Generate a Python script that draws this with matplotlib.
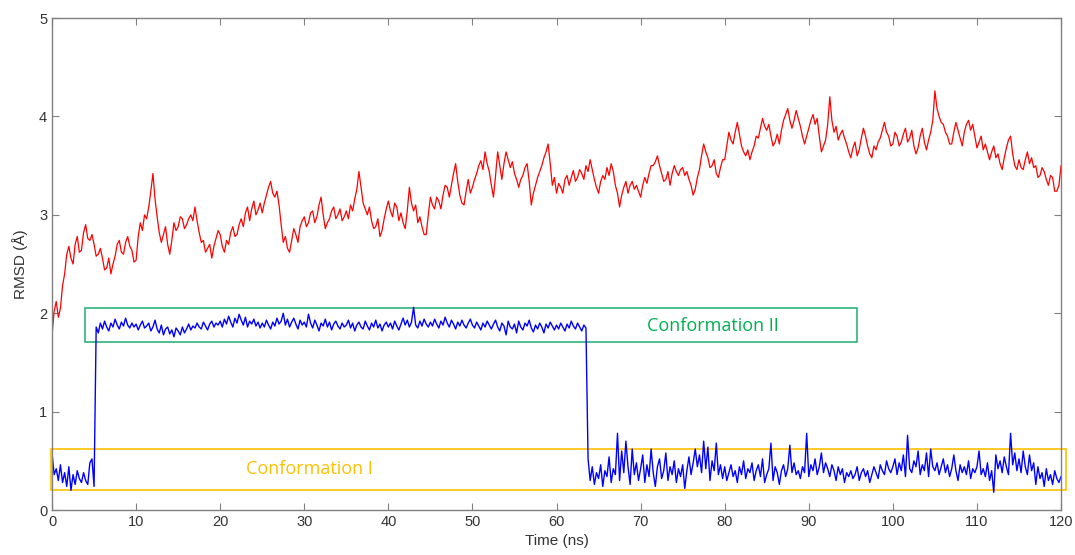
import numpy as np
import matplotlib
matplotlib.use("Agg")
import matplotlib.pyplot as plt
from matplotlib.patches import Rectangle

# red trace, one value every 0.25 ns (0 .. 120 ns)
rmsd_red = [
    1.78, 2.02, 2.12, 1.96, 2.05, 2.28, 2.40, 2.60, 2.68, 2.56, 2.50, 2.70, 2.78, 2.62, 2.64, 2.82, 2.90, 2.76, 2.74, 2.80,
    2.70, 2.58, 2.60, 2.66, 2.56, 2.44, 2.46, 2.56, 2.40, 2.50, 2.58, 2.70, 2.74, 2.62, 2.60, 2.72, 2.78, 2.68, 2.64, 2.52,
    2.54, 2.78, 2.92, 2.84, 3.00, 2.96, 3.08, 3.24, 3.42, 3.16, 2.98, 2.82, 2.72, 2.80, 2.88, 2.70, 2.60, 2.74, 2.92, 2.84,
    2.88, 2.98, 2.96, 2.86, 2.90, 2.96, 3.00, 2.94, 3.08, 2.94, 2.82, 2.72, 2.74, 2.62, 2.66, 2.70, 2.56, 2.68, 2.76, 2.84,
    2.80, 2.68, 2.62, 2.74, 2.70, 2.82, 2.88, 2.78, 2.80, 2.90, 2.96, 2.88, 3.02, 3.08, 2.94, 3.06, 3.14, 3.00, 3.05, 3.12,
    3.02, 3.12, 3.20, 3.28, 3.34, 3.22, 3.18, 3.24, 3.10, 2.90, 2.72, 2.78, 2.66, 2.62, 2.74, 2.86, 2.80, 2.72, 2.88, 2.94,
    2.98, 2.88, 2.92, 3.02, 3.04, 2.92, 2.98, 3.10, 3.18, 3.00, 2.86, 2.92, 2.96, 3.04, 3.08, 2.96, 3.00, 3.06, 2.94, 2.98,
    3.04, 2.96, 3.10, 3.04, 3.16, 3.26, 3.44, 3.28, 3.12, 3.06, 3.00, 3.08, 2.94, 2.86, 2.88, 2.96, 2.78, 2.84, 2.96, 3.06,
    3.14, 3.04, 2.98, 3.12, 3.08, 2.94, 3.02, 2.92, 2.86, 3.04, 3.28, 3.12, 3.04, 3.10, 2.92, 2.98, 2.88, 2.80, 2.80, 3.00,
    3.18, 3.10, 3.06, 3.18, 3.14, 3.06, 3.20, 3.30, 3.28, 3.18, 3.30, 3.42, 3.52, 3.34, 3.20, 3.12, 3.10, 3.24, 3.36, 3.22,
    3.28, 3.36, 3.42, 3.50, 3.55, 3.46, 3.64, 3.52, 3.44, 3.30, 3.18, 3.40, 3.64, 3.50, 3.36, 3.52, 3.64, 3.56, 3.48, 3.54,
    3.42, 3.36, 3.28, 3.36, 3.40, 3.48, 3.52, 3.34, 3.10, 3.22, 3.30, 3.38, 3.44, 3.50, 3.58, 3.64, 3.72, 3.52, 3.30, 3.38,
    3.22, 3.32, 3.28, 3.22, 3.36, 3.40, 3.30, 3.38, 3.45, 3.34, 3.38, 3.46, 3.42, 3.36, 3.50, 3.44, 3.56, 3.46, 3.36, 3.28,
    3.22, 3.34, 3.40, 3.36, 3.48, 3.40, 3.52, 3.44, 3.30, 3.22, 3.08, 3.20, 3.28, 3.34, 3.22, 3.30, 3.34, 3.26, 3.30, 3.24,
    3.18, 3.30, 3.38, 3.32, 3.42, 3.50, 3.50, 3.54, 3.60, 3.50, 3.42, 3.34, 3.36, 3.44, 3.30, 3.42, 3.50, 3.44, 3.40, 3.46,
    3.48, 3.40, 3.44, 3.36, 3.30, 3.20, 3.26, 3.38, 3.46, 3.60, 3.72, 3.64, 3.58, 3.48, 3.50, 3.56, 3.42, 3.38, 3.48, 3.56,
    3.56, 3.70, 3.84, 3.76, 3.72, 3.84, 3.94, 3.82, 3.70, 3.64, 3.60, 3.66, 3.56, 3.64, 3.70, 3.80, 3.78, 3.88, 3.98, 3.90,
    3.86, 3.92, 3.80, 3.70, 3.74, 3.82, 3.72, 3.86, 3.96, 4.02, 4.08, 3.96, 3.88, 3.96, 4.06, 3.98, 3.90, 3.80, 3.72, 3.80,
    3.88, 3.96, 4.02, 3.92, 3.98, 3.80, 3.64, 3.70, 3.76, 3.92, 4.20, 3.96, 3.84, 3.90, 3.76, 3.82, 3.86, 3.78, 3.72, 3.64,
    3.58, 3.68, 3.74, 3.60, 3.66, 3.78, 3.88, 3.80, 3.70, 3.62, 3.58, 3.70, 3.66, 3.74, 3.78, 3.86, 3.94, 3.84, 3.80, 3.70,
    3.72, 3.84, 3.80, 3.70, 3.74, 3.82, 3.88, 3.74, 3.78, 3.86, 3.70, 3.62, 3.68, 3.80, 3.88, 3.74, 3.66, 3.76, 3.84, 3.96,
    4.26, 4.08, 4.00, 3.94, 3.92, 3.84, 3.80, 3.72, 3.72, 3.84, 3.94, 3.86, 3.78, 3.70, 3.84, 3.92, 3.96, 3.86, 3.92, 3.80,
    3.68, 3.74, 3.80, 3.66, 3.72, 3.64, 3.56, 3.64, 3.70, 3.58, 3.62, 3.52, 3.46, 3.58, 3.68, 3.76, 3.80, 3.62, 3.50, 3.46,
    3.56, 3.48, 3.46, 3.56, 3.64, 3.52, 3.58, 3.48, 3.50, 3.38, 3.40, 3.48, 3.44, 3.36, 3.30, 3.40, 3.38, 3.24, 3.24, 3.30,
    3.50,
]

# blue trace, one value every 0.25 ns (0 .. 120 ns)
rmsd_blue = [
    0.58, 0.36, 0.42, 0.30, 0.46, 0.28, 0.38, 0.24, 0.44, 0.20, 0.36, 0.26, 0.40, 0.32, 0.28, 0.38, 0.30, 0.26, 0.48, 0.52,
    0.24, 1.86, 1.80, 1.90, 1.84, 1.92, 1.86, 1.82, 1.90, 1.86, 1.94, 1.88, 1.84, 1.91, 1.87, 1.95, 1.88, 1.85, 1.90, 1.86,
    1.89, 1.83, 1.88, 1.92, 1.85, 1.87, 1.90, 1.82, 1.86, 1.93, 1.84, 1.80, 1.88, 1.78, 1.84, 1.86, 1.79, 1.83, 1.76, 1.85,
    1.82, 1.78, 1.86, 1.80, 1.84, 1.89, 1.83, 1.87, 1.85, 1.90, 1.86, 1.84, 1.91, 1.87, 1.83, 1.89, 1.92, 1.86, 1.90, 1.88,
    1.92, 1.86, 1.94, 1.89, 1.97, 1.91, 1.86, 1.95, 1.90, 1.99, 1.93, 1.88, 1.96, 1.86, 1.92, 1.89, 1.94, 1.87, 1.91, 1.85,
    1.90, 1.86, 1.93, 1.88, 1.84, 1.91, 1.87, 1.95, 1.89, 1.92, 2.00, 1.88, 1.94, 1.86, 1.91, 1.95, 1.89, 1.84, 1.93, 1.88,
    1.91, 1.86, 1.99, 1.90, 1.85, 1.93, 1.88, 1.82, 1.90, 1.87, 1.94, 1.86, 1.91, 1.83, 1.89, 1.92, 1.87, 1.84, 1.90, 1.86,
    1.88, 1.93, 1.85, 1.90, 1.82, 1.88, 1.91, 1.86, 1.84, 1.92, 1.87, 1.83, 1.90, 1.86, 1.93, 1.85, 1.89, 1.82, 1.88, 1.91,
    1.86, 1.90, 1.84, 1.92, 1.87, 1.83, 1.89, 1.95, 1.88, 1.93, 1.86, 1.91, 2.06, 1.88, 1.85, 1.92, 1.87, 1.94, 1.89, 1.86,
    1.91, 1.87, 1.94, 1.89, 1.85, 1.92, 1.88, 1.96, 1.90, 1.86, 1.93, 1.89, 1.84, 1.91, 1.87, 1.93, 1.88, 1.85, 1.90, 1.94,
    1.88, 1.85, 1.91, 1.87, 1.83, 1.90, 1.86, 1.92, 1.88, 1.84, 1.89, 1.93, 1.86, 1.82, 1.90, 1.87, 1.78, 1.92, 1.86, 1.84,
    1.89, 1.80, 1.92, 1.86, 1.83, 1.90, 1.87, 1.93, 1.85, 1.81, 1.88, 1.84, 1.90, 1.86, 1.80, 1.89, 1.85, 1.91, 1.87, 1.83,
    1.88, 1.84, 1.90, 1.86, 1.82, 1.89, 1.85, 1.92, 1.87, 1.84, 1.90, 1.86, 1.82, 1.88, 1.85, 0.52, 0.30, 0.44, 0.26, 0.38,
    0.32, 0.46, 0.24, 0.40, 0.34, 0.54, 0.28, 0.42, 0.36, 0.78, 0.30, 0.60, 0.38, 0.70, 0.44, 0.26, 0.62, 0.36, 0.48, 0.30,
    0.42, 0.56, 0.28, 0.46, 0.34, 0.62, 0.38, 0.24, 0.44, 0.52, 0.32, 0.40, 0.58, 0.30, 0.44, 0.36, 0.50, 0.28, 0.42, 0.34,
    0.46, 0.22, 0.40, 0.54, 0.36, 0.48, 0.62, 0.44, 0.56, 0.38, 0.70, 0.42, 0.64, 0.30, 0.50, 0.40, 0.68, 0.36, 0.46, 0.32,
    0.44, 0.30, 0.38, 0.46, 0.34, 0.40, 0.28, 0.44, 0.36, 0.50, 0.32, 0.42, 0.38, 0.48, 0.30, 0.40, 0.46, 0.34, 0.52, 0.28,
    0.36, 0.42, 0.68, 0.30, 0.44, 0.38, 0.26, 0.40, 0.46, 0.34, 0.42, 0.66, 0.38, 0.48, 0.36, 0.40, 0.32, 0.44, 0.38, 0.78,
    0.34, 0.46, 0.40, 0.52, 0.36, 0.44, 0.58, 0.38, 0.48, 0.42, 0.34, 0.46, 0.40, 0.30, 0.44, 0.36, 0.42, 0.28, 0.38, 0.34,
    0.40, 0.32, 0.36, 0.44, 0.30, 0.38, 0.42, 0.34, 0.40, 0.28, 0.36, 0.44, 0.38, 0.32, 0.46, 0.40, 0.36, 0.50, 0.42, 0.38,
    0.44, 0.52, 0.36, 0.48, 0.40, 0.56, 0.34, 0.76, 0.42, 0.38, 0.50, 0.44, 0.60, 0.36, 0.46, 0.40, 0.58, 0.34, 0.62, 0.44,
    0.40, 0.48, 0.36, 0.44, 0.52, 0.38, 0.46, 0.34, 0.42, 0.56, 0.40, 0.30, 0.46, 0.38, 0.44, 0.36, 0.50, 0.32, 0.42, 0.38,
    0.44, 0.60, 0.36, 0.42, 0.34, 0.48, 0.30, 0.40, 0.18, 0.56, 0.42, 0.50, 0.38, 0.54, 0.44, 0.36, 0.78, 0.46, 0.58, 0.40,
    0.52, 0.38, 0.60, 0.44, 0.36, 0.56, 0.40, 0.48, 0.26, 0.44, 0.32, 0.38, 0.24, 0.42, 0.30, 0.36, 0.26, 0.40, 0.32, 0.28,
    0.34,
]

x_ticks = [0, 10, 20, 30, 40, 50, 60, 70, 80, 90, 100, 110, 120]
y_ticks = [0, 1, 2, 3, 4, 5]

t_red = np.linspace(0, 120, len(rmsd_red))
t_blue = np.linspace(0, 120, len(rmsd_blue))

plt.rcParams['font.family'] = ['Liberation Sans', 'DejaVu Sans']

fig = plt.figure(figsize=(10.75, 5.55), dpi=100)
ax = fig.add_axes([0.0484, 0.081, 0.9386, 0.8865])

ax.plot(t_red, rmsd_red, color='#ff0000', lw=0.9)
ax.plot(t_blue, rmsd_blue, color='#0000ff', lw=1.0)

# state boxes
ax.add_patch(Rectangle((3.9, 1.71), 91.8, 0.34, fill=False, ec='#2fb37a', lw=1.2))
ax.add_patch(Rectangle((-0.1, 0.20), 120.7, 0.42, fill=False, ec='#ffc000', lw=1.2, clip_on=False))
ax.text(78.6, 1.87, "Conformation II", color='#00b050', fontsize=13,
        family=['Open Sans', 'DejaVu Sans'], ha='center', va='center')
ax.text(30.6, 0.42, "Conformation I", color='#ffc000', fontsize=13,
        family=['Open Sans', 'DejaVu Sans'], ha='center', va='center')

ax.set_xlim(0, 120)
ax.set_ylim(0, 5)
ax.set_xticks(x_ticks)
ax.set_yticks(y_ticks)
ax.tick_params(direction='in', top=True, right=True, length=5, width=0.8,
               color='#808080', labelcolor='#333333', labelsize=10.5)
for s in ax.spines.values():
    s.set_color('#808080')
    s.set_linewidth(1.0)
ax.set_xlabel("Time (ns)", fontsize=11, color='#333333', labelpad=4)
ax.set_ylabel("RMSD (Å)", fontsize=11, color='#333333', labelpad=8)

fig.savefig("out.png", dpi=100)
